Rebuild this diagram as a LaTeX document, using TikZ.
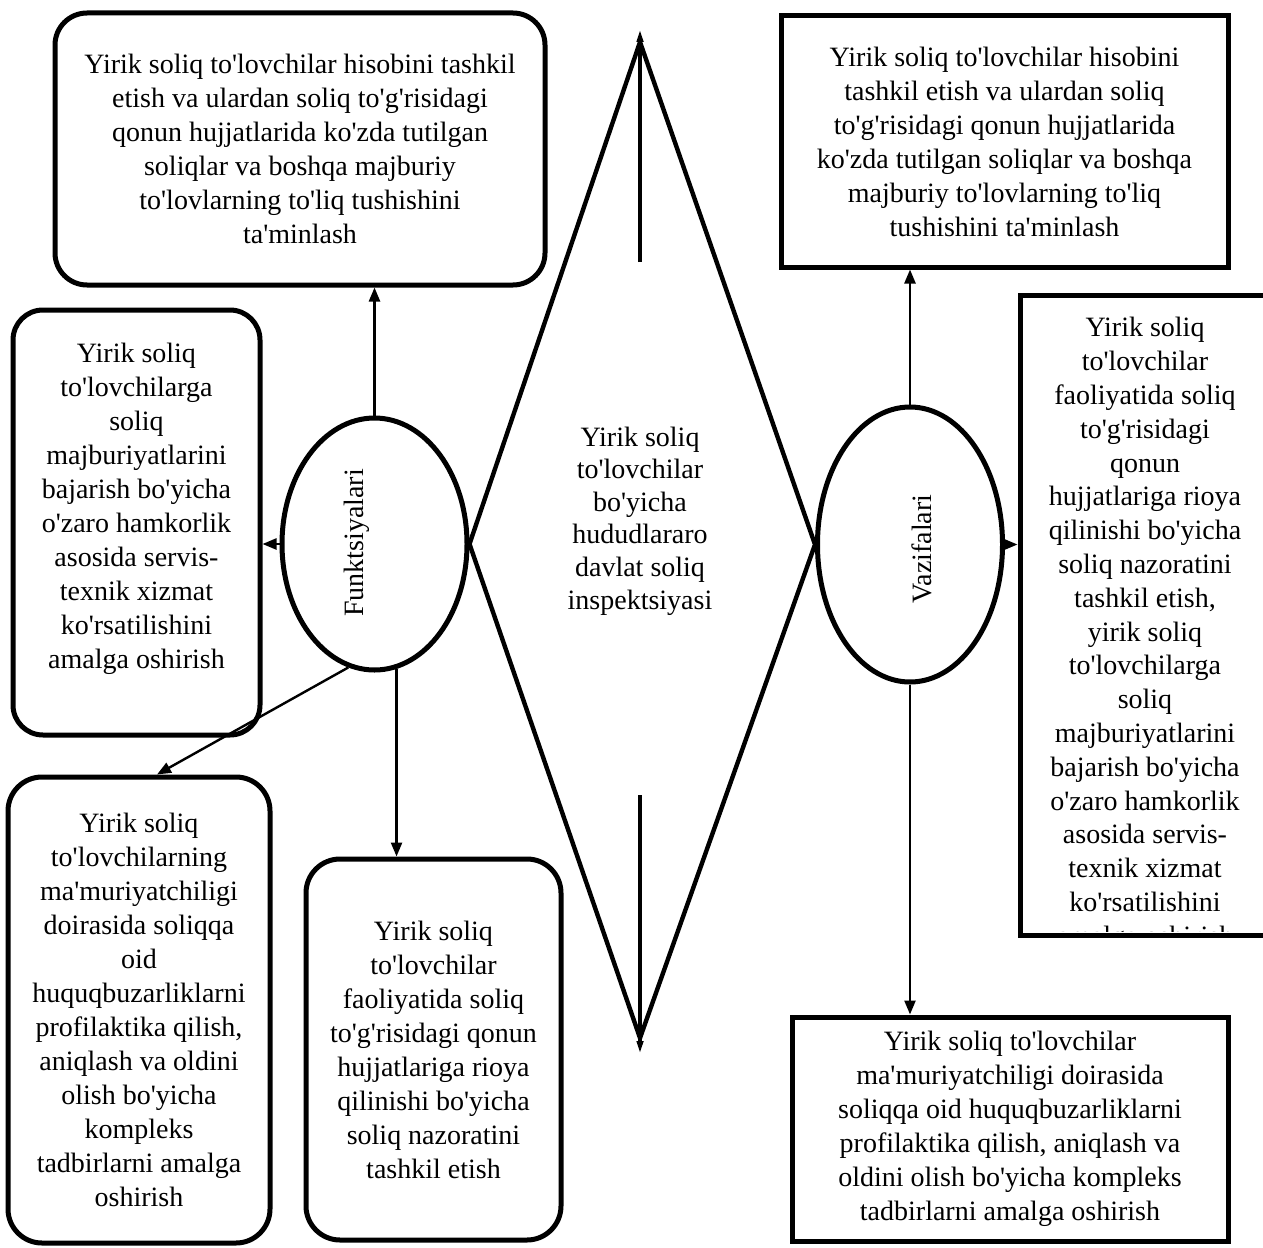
\documentclass[tikz,border=0pt]{standalone}
\usepackage{fontspec}
\setmainfont{Liberation Serif}[Ligatures=TeXOff]
\usetikzlibrary{shapes.geometric,arrows.meta,calc}
\begin{document}
\begin{tikzpicture}[x=0.5pt,y=-0.5pt,
  every node/.style={font=\fontsize{14pt}{17pt}\selectfont, align=center, inner sep=0pt},
  rbox/.style={draw, line width=2.5pt, rounded corners=16pt},
  sbox/.style={draw, line width=2.5pt},
  oval/.style={draw, ellipse, line width=2.5pt},
  arr/.style={line width=1.2pt, -{Triangle[width=5.5pt,length=7pt]}},
  dline/.style={line width=2.2pt},
  vtip/.style={line width=2.2pt, -{Triangle[width=3pt,length=7pt]}},
]
\useasboundingbox (0,0) rectangle (1263,1247);

% boxes
\node[rbox, minimum width=245pt, minimum height=136pt] (TL) at (300,149)
 {Yirik soliq to'lovchilar hisobini tashkil\\ etish va ulardan soliq to'g'risidagi\\ qonun hujjatlarida ko'zda tutilgan\\ soliqlar va boshqa majburiy\\ to'lovlarning to'liq tushishini\\ ta'minlash};

\node[sbox, minimum width=223.5pt, minimum height=125.5pt] (TR) at (1004.5,141.5)
 {Yirik soliq to'lovchilar hisobini\\ tashkil etish va ulardan soliq\\ to'g'risidagi qonun hujjatlarida\\ ko'zda tutilgan soliqlar va boshqa\\ majburiy to'lovlarning to'liq\\ tushishini ta'minlash};

\node[rbox, rounded corners=15pt, minimum width=123.5pt, minimum height=212.5pt] (ML) at (136.5,522.5)
 {Yirik soliq\\ to'lovchilarga\\ soliq\\ majburiyatlarini\\ bajarish bo'yicha\\ o'zaro hamkorlik\\ asosida servis-\\ texnik xizmat\\ ko'rsatilishini\\ amalga oshirish\\ \mbox{}};

\node[rbox, rounded corners=17pt, minimum width=131pt, minimum height=233pt] (BL) at (139,1010)
 {Yirik soliq\\ to'lovchilarning\\ ma'muriyatchiligi\\ doirasida soliqqa\\ oid\\ huquqbuzarliklarni\\ profilaktika qilish,\\ aniqlash va oldini\\ olish bo'yicha\\ kompleks\\ tadbirlarni amalga\\ oshirish};

\node[rbox, rounded corners=17pt, minimum width=127.5pt, minimum height=190.5pt] (BM) at (433.5,1049.5)
 {Yirik soliq\\ to'lovchilar\\ faoliyatida soliq\\ to'g'risidagi qonun\\ hujjatlariga rioya\\ qilinishi bo'yicha\\ soliq nazoratini\\ tashkil etish};

\node[sbox, minimum width=218pt, minimum height=112pt] (BR) at (1010,1129)
 {Yirik soliq to'lovchilar\\ ma'muriyatchiligi doirasida\\ soliqqa oid huquqbuzarliklarni\\ profilaktika qilish, aniqlash va\\ oldini olish bo'yicha kompleks\\ tadbirlarni amalga oshirish};

% right middle box (clipped text)
\begin{scope}
\clip (1020,295) rectangle (1275,931);
\node[anchor=north, font=\fontsize{14pt}{16.9pt}\selectfont] (MRt) at (1145,317)
 {Yirik soliq\\ to'lovchilar\\ faoliyatida soliq\\ to'g'risidagi\\ qonun\\ hujjatlariga rioya\\ qilinishi bo'yicha\\ soliq nazoratini\\ tashkil etish,\\ yirik soliq\\ to'lovchilarga\\ soliq\\ majburiyatlarini\\ bajarish bo'yicha\\ o'zaro hamkorlik\\ asosida servis-\\ texnik xizmat\\ ko'rsatilishini\\ amalga oshirish};
\end{scope}
\node[sbox, minimum width=125pt, minimum height=320pt] (MR) at (1145,615) {};

% ellipses
\node[oval, minimum width=92.5pt, minimum height=126pt] (F) at (374.5,544) {};
\node[rotate=90] (Ft) at (357,543) {Funktsiyalari};
\node[oval, minimum width=92.5pt, minimum height=137.5pt] (V) at (910,544.5) {};
\node[rotate=90] (Vt) at (922,549) {Vazifalari};

% central diamond
\coordinate (DT) at (640,42);
\coordinate (DB) at (640,1038);
\draw[dline] (DT) -- (F.east) -- (DB) -- (V.west) -- cycle;
\node[font=\fontsize{14pt}{16.3pt}\selectfont] (C) at (640,521)
 {Yirik soliq\\ to'lovchilar\\ bo'yicha\\ hududlararo\\ davlat soliq\\ inspektsiyasi};
\coordinate (ut) at (640,262);
\coordinate (utip) at (640,28);
\coordinate (dt) at (640,795);
\coordinate (dtip) at (640,1055);
\draw[vtip] (ut) -- (utip);
\draw[vtip] (dt) -- (dtip);

% connectors
\draw[arr] (F.north) -- (F.north |- TL.south);
\draw[arr] (F.west) -- (F.west -| ML.east);
\draw[arr] (F.258) -- ($(BL.north)+(18,0)$);
\draw[arr] (F.280) -- (F.280 |- BM.north);
\draw[arr] (V.north) -- (V.north |- TR.south);
\draw[arr] (V.east) -- (V.east -| MR.west);
\draw[arr] (V.south) -- (V.south |- BR.north);
\end{tikzpicture}
\end{document}
